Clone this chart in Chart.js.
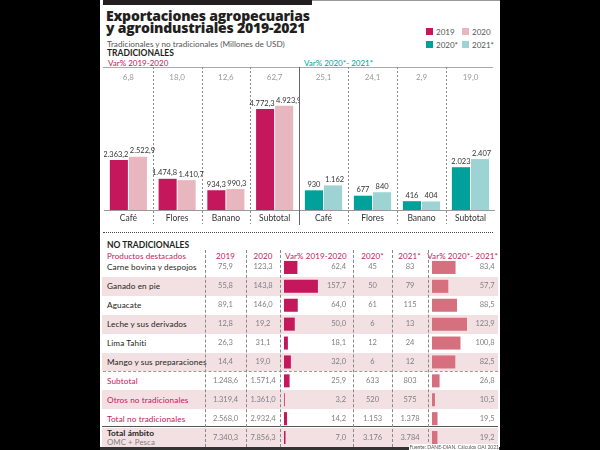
<!DOCTYPE html>
<html>
<head>
<meta charset="utf-8">
<script src="https://cdn.jsdelivr.net/npm/chart.js@4"></script>
<style>
  body { margin: 0; width: 600px; height: 450px; background: #000; overflow: hidden; font-family: Lato, "Open Sans", sans-serif; }
  #panel { position: absolute; left: 100px; top: 0; width: 400px; height: 450px; background: #fff; overflow: hidden; }
  .abs { position: absolute; white-space: nowrap; }
  canvas { position: absolute; }
</style>
</head>
<body>
<div id="panel"></div>
<script>
// traditional exports (millones de USD)
const categories = ["Café", "Flores", "Banano", "Subtotal"];
const seriesNames = ["2019", "2020", "2020*", "2021*"];
const exp2019 = [2363.2, 1474.8, 934.3, 4772.3];
const exp2020 = [2522.9, 1410.7, 990.3, 4923.9];
const exp2020p = [930, 677, 416, 2023];
const exp2021p = [1162, 840, 404, 2407];
const varTradA = [6.8, 18.0, 12.6, 62.7];
const varTradB = [25.1, 24.1, 2.9, 19.0];

// non traditional table
const productos = ["Carne bovina y despojos", "Ganado en pie", "Aguacate", "Leche y sus derivados",
  "Lima Tahiti", "Mango y sus preparaciones", "Subtotal", "Otros no tradicionales",
  "Total no tradicionales", "Total ámbito"];
const nt2019 = [75.9, 55.8, 89.1, 12.8, 26.3, 14.4, 1248.6, 1319.4, 2568.0, 7340.3];
const nt2020 = [123.3, 143.8, 146.0, 19.2, 31.1, 19.0, 1571.4, 1361.0, 2932.4, 7856.3];
const ntVarA = [62.4, 157.7, 64.0, 50.0, 18.1, 32.0, 25.9, 3.2, 14.2, 7.0];
const nt2020p = [45, 50, 61, 6, 12, 6, 633, 520, 1153, 3176];
const nt2021p = [83, 79, 115, 13, 24, 12, 803, 575, 1378, 3784];
const ntVarB = [83.4, 57.7, 88.5, 123.9, 100.8, 82.5, 26.8, 10.5, 19.5, 19.2];

const crimson = "#c4175c";
const pink = "#e8b6bf";
const teal = "#00a19a";
const lightTeal = "#9ed3d4";
const rose = "#d6707f";
const dark = "#231f20";
const grey = "#7d7f82";

Chart.defaults.font.family = "Lato";

const panel = document.getElementById("panel");
const OX = 100; // panel offset

function fmt(v, d) {
  let s = v.toFixed(d).split(".");
  let int = s[0].replace(/\B(?=(\d{3})+(?!\d))/g, ".");
  return s.length > 1 ? int + "," + s[1] : int;
}

function txt(str, x, y, o) {
  o = o || {};
  const el = document.createElement("div");
  el.className = "abs";
  const lh = o.lh || 12;
  el.textContent = str;
  el.style.top = (y - lh / 2) + "px";
  el.style.lineHeight = lh + "px";
  el.style.fontSize = (o.size || 8) + "px";
  el.style.color = o.color || dark;
  el.style.fontWeight = o.weight || 400;
  if (o.family) el.style.fontFamily = o.family;
  if (o.ls) el.style.letterSpacing = o.ls + "px";
  if (o.align === "center") {
    el.style.left = (x - OX - 60) + "px"; el.style.width = "120px"; el.style.textAlign = "center";
  } else if (o.align === "right") {
    el.style.right = (400 - (x - OX)) + "px";
  } else {
    el.style.left = (x - OX) + "px";
  }
  if (o.bg) el.style.background = o.bg;
  if (o.z) el.style.zIndex = o.z;
  panel.appendChild(el);
  return el;
}

function box(x, y, w, h, css) {
  const el = document.createElement("div");
  el.className = "abs";
  el.style.left = (x - OX) + "px"; el.style.top = y + "px";
  el.style.width = w + "px"; el.style.height = h + "px";
  Object.assign(el.style, css || {});
  panel.appendChild(el);
  return el;
}

function canvasAt(x, y, w, h) {
  const c = document.createElement("canvas");
  c.width = w; c.height = h;
  c.style.left = (x - OX) + "px"; c.style.top = y + "px";
  c.style.width = w + "px"; c.style.height = h + "px";
  c.style.zIndex = 2;
  panel.appendChild(c);
  return c;
}

// header
box(103, 0, 209, 5, { background: dark });
box(312, 0, 188, 1, { background: "#999" });
const tOpt = { size: 14, weight: 800, lh: 14, ls: -0.2, family: "'Open Sans', Lato, sans-serif" };
txt("Exportaciones agropecuarias", 106, 15.5, tOpt);
txt("y agroindustriales 2019-2021", 106, 27.5, tOpt);
txt("Tradicionales y no tradicionales (Millones de USD)", 107, 43.5, { size: 8.2, color: "#555" });
txt("TRADICIONALES", 107, 52.5, { size: 8.5, weight: 700 });

// legend
const legendCols = [crimson, pink, teal, lightTeal];
const legendPos = [[426, 28], [462, 28], [426, 41], [462, 41]];
seriesNames.forEach((n, i) => {
  box(legendPos[i][0], legendPos[i][1], 7, 7, { background: legendCols[i] });
  txt(n, legendPos[i][0] + 10, legendPos[i][1] + 3.5, { size: 8, color: "#555" });
});

txt("Var% 2019-2020", 108, 63, { size: 8, color: crimson });
txt("Var%  2020*- 2021*", 304, 63, { size: 8, color: teal });
box(103, 67, 390, 1, { background: "#aaa" });
box(298.5, 67, 1, 158, { background: "#666", zIndex: 3 });

// separators and value labels for the grouped bars
const barDecor = {
  id: "barDecor",
  afterDatasetsDraw(chart) {
    const ctx = chart.ctx;
    const xs = chart.scales.x;
    const dec = chart.options.plugins.barDecor.decimals;
    ctx.save();
    ctx.strokeStyle = "#8a8a8a";
    ctx.lineWidth = 1;
    ctx.setLineDash([2, 2]);
    for (let i = 1; i < categories.length; i++) {
      const x = Math.round((xs.getPixelForValue(i - 1) + xs.getPixelForValue(i)) / 2) + 0.5;
      ctx.beginPath(); ctx.moveTo(x, 0); ctx.lineTo(x, chart.height - 2); ctx.stroke();
    }
    ctx.setLineDash([]);
    ctx.fillStyle = "#333";
    ctx.font = "7.5px Lato";
    ctx.textBaseline = "bottom";
    chart.data.datasets.forEach((ds, di) => {
      chart.getDatasetMeta(di).data.forEach((bar, j) => {
        const s = fmt(ds.data[j], dec);
        const w = ctx.measureText(s).width;
        let x = bar.x;
        ctx.textAlign = "center";
        if (w > bar.width) {
          if (di === 0) { ctx.textAlign = "right"; x = bar.x + bar.width / 2 + 0.5; }
          else { ctx.textAlign = "left"; x = bar.x - bar.width / 2 + 1; }
        }
        ctx.fillText(s, x, bar.y - 2);
      });
    });
    ctx.restore();
  }
};

function groupedBars(x, w, dataA, dataB, colA, colB, varVals, decimals) {
  const c = canvasAt(x, 67, w, 159);
  const chart = new Chart(c, {
    type: "bar",
    data: {
      labels: categories,
      datasets: [
        { data: dataA, backgroundColor: colA, categoryPercentage: 0.78, barPercentage: 0.95 },
        { data: dataB, backgroundColor: colB, categoryPercentage: 0.78, barPercentage: 0.95 },
      ],
    },
    options: {
      responsive: false,
      animation: false,
      layout: { padding: 0 },
      plugins: { legend: { display: false }, tooltip: { enabled: false }, barDecor: { decimals: decimals } },
      scales: {
        y: { display: false, min: 0, max: 6760 },
        x: {
          grid: { display: false, drawTicks: false },
          border: { color: "#999" },
          ticks: { color: "#333", font: { size: 8.5 }, padding: 3 },
          afterFit(scale) { scale.height = 16; },
        },
      },
    },
    plugins: [barDecor],
  });
  const cw = w / categories.length;
  varVals.forEach((v, i) => {
    txt(fmt(v, 1), x + cw * (i + 0.5), 77, { size: 8, color: "#9a9a9a", align: "center", z: 3 });
  });
  return chart;
}

groupedBars(104, 195, exp2019, exp2020, crimson, pink, varTradA, 1);
groupedBars(299, 196, exp2020p, exp2021p, teal, lightTeal, varTradB, 0);

box(103, 232, 390, 0, { borderTop: "1px dotted #444" });

// non traditional table
txt("NO TRADICIONALES", 107, 245, { size: 8.5, weight: 700 });
const hy = 255.5;
const hOpt = { size: 8, color: crimson, ls: 0.1 };
txt("Productos destacados", 107, hy, hOpt);
txt("2019", 225.5, hy, Object.assign({ align: "center" }, hOpt));
txt("2020", 263, hy, Object.assign({ align: "center" }, hOpt));
txt("Var% 2019-2020", 285, hy, hOpt);
txt("2020*", 372.5, hy, Object.assign({ align: "center" }, hOpt));
txt("2021*", 409.5, hy, Object.assign({ align: "center" }, hOpt));
txt("Var%  2020*- 2021*", 498, hy, Object.assign({ align: "right" }, hOpt));

const rowTop = 258, rowH = 18.9;
productos.forEach((p, i) => {
  const y0 = rowTop + rowH * i;
  if (i % 2 === 1) box(102, y0, 396, rowH, { background: "#f3e0e3" });
});
box(103, rowTop + rowH * 6 - 0.5, 395, 0, { borderTop: "1px dashed #999" });
box(102, rowTop + rowH * 9 - 2.5, 396, 1, { background: "#555" });
[205, 246, 280, 353, 392, 428].forEach((x) => {
  box(x, 250, 0, 197, { borderLeft: "1px dashed #888", zIndex: 1 });
});

productos.forEach((p, i) => {
  const cy = rowTop + rowH * (i + 0.5);
  const labelColor = (i >= 6 && i <= 8) ? crimson : dark;
  if (i === 9) {
    txt(p, 107, cy - 4.8, { size: 8.3, weight: 700, ls: 0.1 });
    txt("OMC + Pesca", 107, cy + 4.2, { size: 7.8, color: grey, ls: 0.1 });
  } else {
    txt(p, 107, cy, { size: 8.2, color: labelColor, ls: 0.1 });
  }
  const nOpt = { size: 7.5, color: grey, align: "center", z: 3 };
  txt(fmt(nt2019[i], 1), 225.5, cy, nOpt);
  txt(fmt(nt2020[i], 1), 263, cy, nOpt);
  txt(fmt(ntVarA[i], 1), 346, cy, { size: 7.5, color: grey, align: "right", z: 3 });
  txt(fmt(nt2020p[i], 0), 372.5, cy, nOpt);
  txt(fmt(nt2021p[i], 0), 410, cy, nOpt);
  txt(fmt(ntVarB[i], 1), 494.5, cy, { size: 7.5, color: grey, align: "right", z: 3 });
});

function varBars(x, w, data, color, max) {
  const c = canvasAt(x, rowTop, w, Math.round(rowH * productos.length));
  return new Chart(c, {
    type: "bar",
    data: { labels: productos, datasets: [{ data: data, backgroundColor: color, barPercentage: 0.69, categoryPercentage: 1 }] },
    options: {
      indexAxis: "y",
      responsive: false,
      animation: false,
      layout: { padding: 0 },
      plugins: { legend: { display: false }, tooltip: { enabled: false } },
      scales: { x: { display: false, min: 0, max: max }, y: { display: false } },
    },
  });
}
varBars(284, 60, ntVarA, crimson, 279);
varBars(432, 60, ntVarB, rose, 212.4);

// footer
box(100, 447, 400, 3, { background: "#333" });
txt("Fuente: DANE-DIAN. Cálculos OAI 2021", 499, 446.5, { size: 5, color: "#555", align: "right", bg: "#fff", lh: 6, z: 4 });
</script>
</body>
</html>
